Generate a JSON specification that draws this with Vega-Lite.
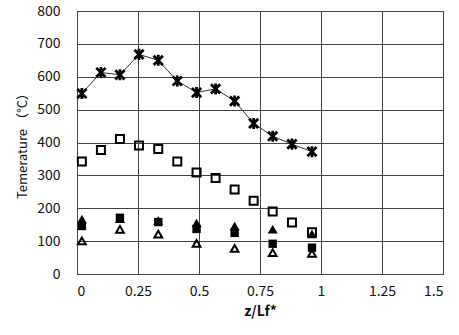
{
  "$schema": "https://vega.github.io/schema/vega-lite/v6.json",
  "width": 366,
  "height": 263,
  "autosize": {"type": "none"},
  "padding": {"left": 77, "top": 11, "right": 16, "bottom": 61},
  "background": "white",
  "config": {
    "view": {"stroke": "black", "strokeWidth": 1},
    "axis": {
      "grid": true,
      "gridColor": "#444444",
      "gridWidth": 1,
      "gridOpacity": 1,
      "domain": false,
      "ticks": false,
      "labelFont": "Noto Sans CJK JP",
      "labelFontWeight": "normal",
      "labelFontSize": 14,
      "labelColor": "#111111",
      "titleColor": "#111111"
    }
  },
  "datasets": {
    "pts": [
      {"series": "star", "z": 0.02, "T": 549},
      {"series": "star", "z": 0.098, "T": 613},
      {"series": "star", "z": 0.176, "T": 606},
      {"series": "star", "z": 0.254, "T": 668},
      {"series": "star", "z": 0.333, "T": 650},
      {"series": "star", "z": 0.411, "T": 587},
      {"series": "star", "z": 0.49, "T": 552},
      {"series": "star", "z": 0.568, "T": 563},
      {"series": "star", "z": 0.646, "T": 526},
      {"series": "star", "z": 0.724, "T": 458},
      {"series": "star", "z": 0.802, "T": 419},
      {"series": "star", "z": 0.881, "T": 395},
      {"series": "star", "z": 0.963, "T": 372},
      {"series": "osq", "z": 0.02, "T": 342},
      {"series": "osq", "z": 0.098, "T": 377},
      {"series": "osq", "z": 0.176, "T": 411},
      {"series": "osq", "z": 0.254, "T": 391},
      {"series": "osq", "z": 0.333, "T": 380},
      {"series": "osq", "z": 0.411, "T": 342},
      {"series": "osq", "z": 0.49, "T": 309},
      {"series": "osq", "z": 0.568, "T": 292},
      {"series": "osq", "z": 0.646, "T": 257},
      {"series": "osq", "z": 0.724, "T": 223},
      {"series": "osq", "z": 0.802, "T": 190},
      {"series": "osq", "z": 0.881, "T": 157},
      {"series": "osq", "z": 0.963, "T": 127},
      {"series": "ftri", "z": 0.02, "T": 167},
      {"series": "ftri", "z": 0.176, "T": 168},
      {"series": "ftri", "z": 0.333, "T": 163},
      {"series": "ftri", "z": 0.49, "T": 155},
      {"series": "ftri", "z": 0.646, "T": 146},
      {"series": "ftri", "z": 0.802, "T": 136},
      {"series": "ftri", "z": 0.963, "T": 122},
      {"series": "fsq", "z": 0.02, "T": 146},
      {"series": "fsq", "z": 0.176, "T": 171},
      {"series": "fsq", "z": 0.333, "T": 158},
      {"series": "fsq", "z": 0.49, "T": 137},
      {"series": "fsq", "z": 0.646, "T": 125},
      {"series": "fsq", "z": 0.802, "T": 92},
      {"series": "fsq", "z": 0.963, "T": 80},
      {"series": "otri", "z": 0.02, "T": 101},
      {"series": "otri", "z": 0.176, "T": 136},
      {"series": "otri", "z": 0.333, "T": 121},
      {"series": "otri", "z": 0.49, "T": 93},
      {"series": "otri", "z": 0.646, "T": 78},
      {"series": "otri", "z": 0.802, "T": 65},
      {"series": "otri", "z": 0.963, "T": 63}
    ]
  },
  "data": {"name": "pts"},
  "encoding": {
    "x": {
      "field": "z", "type": "quantitative",
      "scale": {"domain": [0, 1.5], "nice": false, "zero": false},
      "axis": {
        "values": [0, 0.25, 0.5, 0.75, 1, 1.25, 1.5],
        "format": ".2~f",
        "labelPadding": 10,
        "title": "z/Lf*",
        "titleFont": "Noto Sans CJK JP",
        "titleFontWeight": "bold",
        "titleFontSize": 14,
        "titlePadding": 6
      }
    },
    "y": {
      "field": "T", "type": "quantitative",
      "scale": {"domain": [0, 800], "nice": false},
      "axis": {
        "values": [0, 100, 200, 300, 400, 500, 600, 700, 800],
        "labelPadding": 17,
        "title": "Temerature （°C）",
        "titleFont": "Noto Sans CJK JP",
        "titleFontWeight": "normal",
        "titleFontSize": 13,
        "titlePadding": 7
      }
    }
  },
  "layer": [
    {
      "transform": [{"filter": "datum.series === 'star'"}],
      "mark": {"type": "line", "color": "#333333", "strokeWidth": 1}
    },
    {
      "transform": [{"filter": "datum.series === 'star'"}],
      "mark": {"type": "point", "shape": "M-1,-1L1,1M-1,1L1,-1M0,-1.2L0,1.2", "filled": false, "stroke": "black", "strokeWidth": 2.8, "size": 85, "opacity": 1}
    },
    {
      "transform": [{"filter": "datum.series === 'osq'"}],
      "mark": {"type": "point", "shape": "square", "filled": false, "stroke": "black", "strokeWidth": 2, "size": 64, "opacity": 1}
    },
    {
      "transform": [{"filter": "datum.series === 'otri'"}],
      "mark": {"type": "point", "shape": "triangle-up", "filled": false, "stroke": "black", "strokeWidth": 2, "size": 60, "opacity": 1}
    },
    {
      "transform": [{"filter": "datum.series === 'ftri'"}],
      "mark": {"type": "point", "shape": "triangle-up", "filled": true, "fill": "black", "size": 100, "opacity": 1}
    },
    {
      "transform": [{"filter": "datum.series === 'fsq'"}],
      "mark": {"type": "point", "shape": "square", "filled": true, "fill": "black", "size": 70, "opacity": 1}
    }
  ]
}
